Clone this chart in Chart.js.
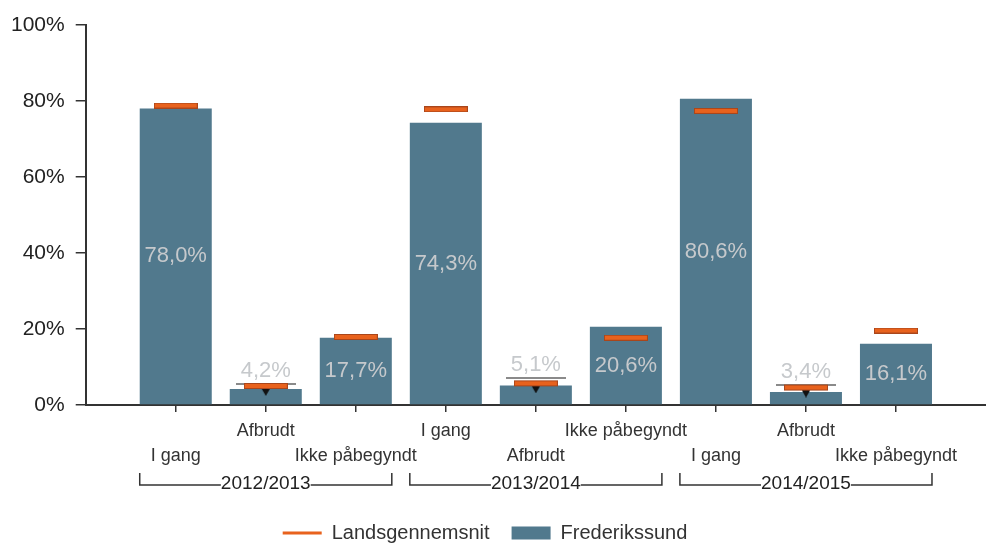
<!DOCTYPE html>
<html>
<head>
<meta charset="utf-8">
<script src="https://cdn.jsdelivr.net/npm/chart.js@4.4.1/dist/chart.umd.min.js"></script>
<style>
  html, body { margin: 0; padding: 0; background: #fff; }
  #wrap { width: 986px; height: 545px; }
</style>
</head>
<body>
<div id="wrap"><canvas id="chart"></canvas></div>
<script>
// ===== Data =====
const categories = ['I gang', 'Afbrudt', 'Ikke påbegyndt', 'I gang', 'Afbrudt', 'Ikke påbegyndt', 'I gang', 'Afbrudt', 'Ikke påbegyndt'];
const groups = ['2012/2013', '2013/2014', '2014/2015'];
const frederikssund = [78.0, 4.2, 17.7, 74.3, 5.1, 20.6, 80.6, 3.4, 16.1];
const landsgennemsnit = [78.8, 5.0, 17.9, 77.8, 5.7, 17.7, 77.4, 4.6, 19.6];
const afbrudtLine = [null, 5.5, null, null, 7.1, null, null, 5.3, null];
const yTicks = [0, 20, 40, 60, 80, 100];

const ORANGE = '#e8621d';
const BAR = '#51798d';
const pad = arr => [null, ...arr, null];

// staggered two-row labels, one empty slot at each end of the axis
const xLabels = ['', ...categories.map((c, i) => i % 2 ? [c, ''] : ['', c]), ''];

// ===== Marker images =====
function makeMarker(withArrow) {
  const c = document.createElement('canvas');
  c.width = 44; c.height = withArrow ? 20 : 6;
  const g = c.getContext('2d');
  const top = withArrow ? 7 : 0;
  g.fillStyle = '#a9461b';
  g.fillRect(0, top, 44, 6);
  g.fillStyle = ORANGE;
  g.fillRect(1, top + 1, 42, 4);
  if (withArrow) {
    g.fillStyle = '#111';
    g.beginPath();
    g.moveTo(18, 13); g.lineTo(26, 13); g.lineTo(22, 20);
    g.closePath(); g.fill();
  }
  return c;
}
const markerPlain = makeMarker(false);
const markerArrow = makeMarker(true);

const greyLine = document.createElement('canvas');
greyLine.width = 60; greyLine.height = 2;
(g => { g.fillStyle = '#8a8a8a'; g.fillRect(0, 0, 60, 2); })(greyLine.getContext('2d'));

Chart.defaults.font.family = '"Liberation Sans", Arial, sans-serif';
Chart.defaults.color = '#333';

// ===== Labels + group brackets =====
const extras = {
  id: 'extras',
  afterLayout(chart) {
    // legend sits a little left of centre in the original
    chart.legend.left -= 8;
    chart.legend.right -= 8;
  },
  afterDatasetsDraw(chart) {
    const ctx = chart.ctx;
    const bars = chart.getDatasetMeta(2).data;
    const greys = chart.getDatasetMeta(1).data;
    ctx.save();
    ctx.font = '22px "Liberation Sans", Arial, sans-serif';
    ctx.fillStyle = '#c6c9cc';
    ctx.textAlign = 'center';
    ctx.textBaseline = 'middle';
    frederikssund.forEach((v, i) => {
      const el = bars[i + 1];
      const txt = v.toFixed(1).replace('.', ',') + '%';
      let y;
      if (el.base - el.y < 40) {
        const g = afbrudtLine[i] != null ? greys[i + 1].y : el.y;
        y = Math.min(g, el.y) - 13;
      } else {
        y = (el.y + el.base) / 2;
      }
      ctx.fillText(txt, el.x, y);
    });

    // group brackets
    const yb = chart.chartArea.bottom + 80;
    ctx.font = '19px "Liberation Sans", Arial, sans-serif';
    ctx.fillStyle = '#222';
    ctx.strokeStyle = '#333';
    ctx.lineWidth = 1.5;
    groups.forEach((name, gi) => {
      const first = bars[gi * 3 + 1], last = bars[gi * 3 + 3];
      const x0 = first.x - first.width / 2, x1 = last.x + last.width / 2;
      const cx = (x0 + x1) / 2;
      const tw = ctx.measureText(name).width / 2;
      ctx.beginPath();
      ctx.moveTo(x0, yb - 12); ctx.lineTo(x0, yb); ctx.lineTo(cx - tw, yb);
      ctx.moveTo(cx + tw, yb); ctx.lineTo(x1, yb); ctx.lineTo(x1, yb - 12);
      ctx.stroke();
      ctx.fillText(name, cx, yb - 1);
    });
    ctx.restore();
  }
};

new Chart(document.getElementById('chart'), {
  type: 'bar',
  data: {
    labels: xLabels,
    datasets: [
      {
        type: 'line',
        label: 'Landsgennemsnit',
        data: pad(landsgennemsnit),
        showLine: false,
        pointStyle: ctx => (afbrudtLine[ctx.dataIndex - 1] != null ? markerArrow : markerPlain),
        pointRadius: 10,
        borderColor: ORANGE,
        backgroundColor: ORANGE,
        order: 0
      },
      {
        type: 'line',
        label: 'ref',
        data: pad(afbrudtLine),
        showLine: false,
        pointStyle: greyLine,
        pointRadius: 10,
        order: 1
      },
      {
        label: 'Frederikssund',
        data: pad(frederikssund),
        backgroundColor: BAR,
        barPercentage: 0.8,
        categoryPercentage: 1,
        pointStyle: 'rect',
        order: 2
      }
    ]
  },
  options: {
    responsive: true,
    maintainAspectRatio: false,
    animation: false,
    layout: { autoPadding: false, padding: { top: 25, left: 0, right: 0, bottom: -8 } },
    scales: {
      x: {
        offset: false,
        grid: {
          offset: false,
          drawOnChartArea: false,
          tickLength: 13,
          tickBorderDash: [6, 40],
          lineWidth: 1.5,
          tickColor: ctx => (ctx.index === 0 || ctx.index === xLabels.length - 1) ? 'rgba(0,0,0,0)' : '#333'
        },
        border: { color: '#333', width: 2 },
        ticks: {
          autoSkip: false,
          maxRotation: 0,
          padding: 0,
          color: '#333',
          font: { size: 18, lineHeight: 1.4 }
        },
        afterFit: scale => { scale.height = 96; }
      },
      y: {
        min: 0,
        max: 100,
        afterBuildTicks: scale => { scale.ticks = yTicks.map(v => ({ value: v })); },
        grid: { drawOnChartArea: false, tickLength: 10, lineWidth: 1.5, tickColor: '#333' },
        border: { color: '#333', width: 2 },
        ticks: {
          padding: 11,
          color: '#222',
          font: { size: 21 },
          callback: v => v + '%'
        }
      }
    },
    plugins: {
      tooltip: { enabled: false },
      legend: {
        position: 'bottom',
        labels: {
          usePointStyle: true,
          pointStyleWidth: 39,
          boxHeight: 13,
          padding: 22,
          color: '#333',
          font: { size: 20 },
          filter: item => item.text !== 'ref',
          generateLabels: chart => {
            const items = Chart.defaults.plugins.legend.labels.generateLabels(chart);
            items.forEach(it => {
              if (it.text === 'Landsgennemsnit') {
                it.pointStyle = 'line';
                it.strokeStyle = ORANGE;
                it.lineWidth = 3;
              }
            });
            return items;
          }
        }
      }
    }
  },
  plugins: [extras]
});
</script>
</body>
</html>
